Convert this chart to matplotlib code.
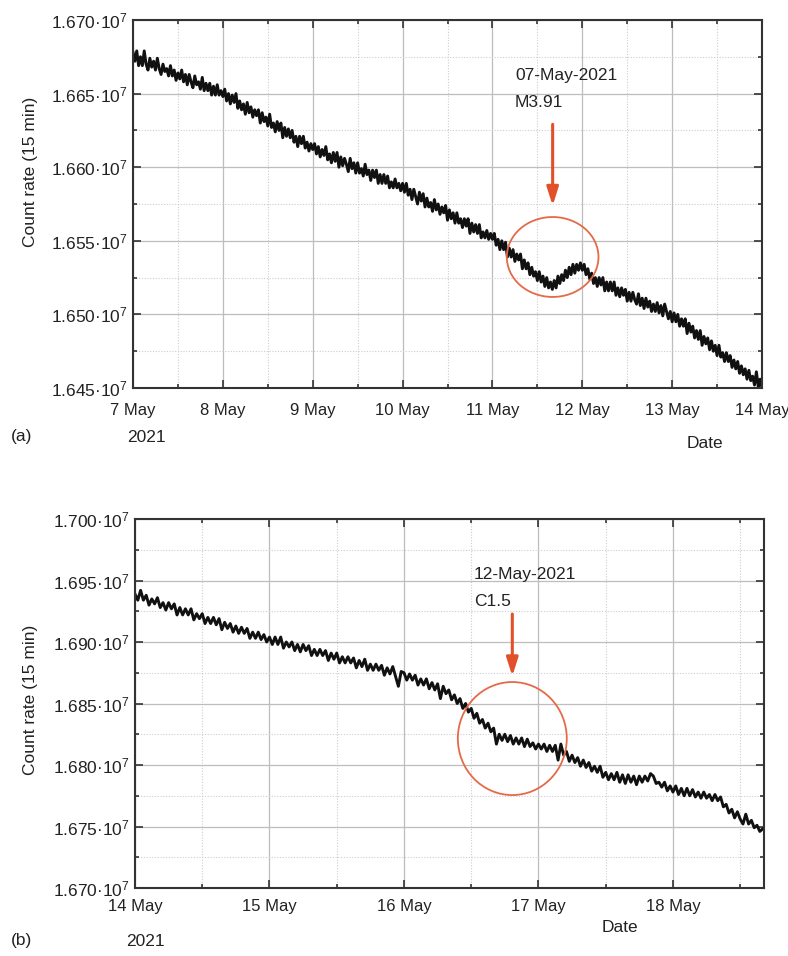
import numpy as np
import pandas as pd
import matplotlib
matplotlib.use("Agg")
import matplotlib.pyplot as plt
import matplotlib.dates as mdates
from matplotlib.patches import Ellipse
from matplotlib.ticker import MultipleLocator, FuncFormatter

plt.rcParams['font.family'] = ['Liberation Sans', 'DejaVu Sans']
plt.rcParams['mathtext.fontset'] = 'custom'
plt.rcParams['mathtext.rm'] = 'Liberation Sans'
plt.rcParams['mathtext.it'] = 'Liberation Sans:italic'

# 30-min count rate (thousands), panel (a): 7 May 00:00 -> 14 May 00:00
rate_a = [
    # 7 May
    16678, 16672, 16679, 16669, 16675, 16669, 16679, 16670, 16666, 16674, 16668, 16672,
    16666, 16674, 16667, 16663, 16670, 16665, 16667, 16662, 16669, 16662, 16666, 16659,
    16664, 16660, 16666, 16658, 16663, 16656, 16663, 16658, 16654, 16662, 16656, 16658,
    16653, 16661, 16652, 16657, 16652, 16657, 16649, 16655, 16649, 16656, 16649, 16652,
    # 8 May
    16648, 16653, 16645, 16650, 16643, 16649, 16644, 16650, 16640, 16645, 16639, 16643,
    16636, 16644, 16637, 16641, 16634, 16639, 16635, 16639, 16630, 16637, 16631, 16634,
    16628, 16636, 16627, 16630, 16624, 16631, 16625, 16630, 16620, 16627, 16621, 16626,
    16620, 16625, 16617, 16621, 16614, 16621, 16616, 16621, 16613, 16617, 16611, 16616,
    # 9 May
    16612, 16616, 16609, 16614, 16607, 16612, 16608, 16614, 16605, 16609, 16603, 16610,
    16604, 16610, 16600, 16607, 16601, 16606, 16602, 16597, 16606, 16599, 16603, 16596,
    16603, 16596, 16599, 16594, 16602, 16595, 16598, 16591, 16598, 16593, 16598, 16589,
    16595, 16589, 16595, 16589, 16594, 16586, 16590, 16586, 16592, 16586, 16589, 16584,
    # 10 May
    16589, 16583, 16589, 16581, 16585, 16578, 16585, 16580, 16575, 16583, 16577, 16582,
    16573, 16579, 16573, 16576, 16570, 16578, 16571, 16575, 16568, 16573, 16569, 16574,
    16564, 16571, 16565, 16569, 16562, 16569, 16562, 16565, 16559, 16565, 16560, 16565,
    16555, 16562, 16556, 16561, 16555, 16561, 16552, 16556, 16552, 16557, 16551, 16555,
    # 11 May
    16551, 16555, 16547, 16551, 16544, 16550, 16544, 16549, 16539, 16545, 16539, 16544,
    16536, 16541, 16537, 16541, 16531, 16537, 16531, 16535, 16527, 16532, 16526, 16529,
    16523, 16529, 16522, 16526, 16519, 16525, 16518, 16522, 16517, 16523, 16518, 16526,
    16521, 16527, 16523, 16530, 16525, 16532, 16527, 16534, 16528, 16534, 16530, 16535,
    # 12 May
    16530, 16534, 16527, 16531, 16524, 16528, 16521, 16525, 16519, 16525, 16520, 16525,
    16516, 16522, 16516, 16522, 16516, 16522, 16513, 16518, 16512, 16518, 16513, 16517,
    16509, 16515, 16509, 16515, 16510, 16507, 16514, 16506, 16511, 16504, 16511, 16505,
    16509, 16502, 16507, 16502, 16508, 16501, 16506, 16499, 16507, 16502, 16497, 16502,
    # 13 May
    16495, 16501, 16495, 16500, 16492, 16497, 16492, 16497, 16487, 16494, 16488, 16492,
    16484, 16489, 16483, 16489, 16479, 16485, 16480, 16484, 16476, 16482, 16475, 16479,
    16472, 16479, 16471, 16474, 16468, 16474, 16468, 16472, 16464, 16469, 16463, 16468,
    16460, 16465, 16459, 16463, 16456, 16462, 16455, 16458, 16452, 16461, 16451, 16456,
    # 14 May 00:00
    16450,
]

# 30-min count rate (thousands), panel (b): 14 May 00:00 -> 18 May 16:00
rate_b = [
    # 14 May
    16939, 16934, 16942, 16934, 16938, 16930, 16935, 16931, 16936, 16928, 16932, 16926,
    16932, 16927, 16931, 16922, 16928, 16922, 16927, 16922, 16927, 16918, 16923, 16919,
    16923, 16915, 16920, 16915, 16920, 16914, 16919, 16910, 16916, 16911, 16915, 16908,
    16913, 16907, 16912, 16907, 16911, 16903, 16908, 16903, 16908, 16902, 16906, 16900,
    # 15 May
    16904, 16898, 16904, 16898, 16904, 16895, 16900, 16896, 16900, 16893, 16898, 16892,
    16898, 16893, 16897, 16889, 16894, 16889, 16894, 16889, 16893, 16885, 16891, 16886,
    16891, 16883, 16888, 16883, 16888, 16883, 16887, 16879, 16885, 16880, 16886, 16877,
    16882, 16877, 16882, 16877, 16881, 16873, 16879, 16874, 16880, 16872, 16864, 16876,
    # 16 May
    16875, 16869, 16874, 16869, 16873, 16865, 16870, 16865, 16870, 16862, 16867, 16861,
    16866, 16854, 16864, 16858, 16861, 16853, 16857, 16850, 16854, 16846, 16850, 16843,
    16846, 16838, 16842, 16834, 16837, 16830, 16834, 16827, 16830, 16817, 16825, 16820,
    16825, 16819, 16824, 16817, 16822, 16817, 16822, 16815, 16821, 16815, 16818, 16813,
    # 17 May
    16817, 16813, 16817, 16811, 16816, 16811, 16816, 16804, 16817, 16808, 16811, 16803,
    16808, 16802, 16806, 16799, 16804, 16798, 16802, 16795, 16799, 16794, 16799, 16790,
    16794, 16788, 16793, 16788, 16794, 16786, 16792, 16785, 16792, 16786, 16791, 16784,
    16791, 16786, 16791, 16787, 16793, 16791, 16785, 16786, 16782, 16786, 16779, 16783,
    # 18 May 00:00 -> 16:00
    16778, 16783, 16776, 16781, 16775, 16781, 16775, 16780, 16774, 16778, 16773, 16778,
    16773, 16776, 16771, 16776, 16771, 16774, 16766, 16768, 16761, 16764, 16757, 16762,
    16756, 16752, 16760, 16752, 16755, 16749, 16751, 16746, 16748,
]

yticks_a = [1.645e7, 1.650e7, 1.655e7, 1.660e7, 1.665e7, 1.670e7]
yticks_b = [1.670e7, 1.675e7, 1.680e7, 1.685e7, 1.690e7, 1.695e7, 1.700e7]

red = '#e2502a'
circ = '#e46a48'
FS = 12.5

t_a = pd.date_range('2021-05-07', periods=len(rate_a), freq='30min')
t_b = pd.date_range('2021-05-14', periods=len(rate_b), freq='30min')

W, H = 788, 956
fig = plt.figure(figsize=(W / 100, H / 100), dpi=100)
ax1 = fig.add_axes([133 / W, 1 - 388 / H, (762 - 133) / W, (388 - 20) / H])
ax2 = fig.add_axes([135 / W, 1 - 888 / H, (764 - 135) / W, (888 - 519) / H])


def ylab(v, pos):
    return '%.3f·10$^{7}$' % (v / 1e7)


def style(ax, yt, pad_x):
    ax.set_yticks(yt)
    ax.yaxis.set_minor_locator(MultipleLocator(0.0025e7))
    ax.yaxis.set_major_formatter(FuncFormatter(ylab))
    ax.xaxis.set_major_locator(mdates.DayLocator())
    ax.xaxis.set_minor_locator(mdates.HourLocator(byhour=[12]))
    ax.xaxis.set_major_formatter(FuncFormatter(
        lambda v, p: '%d May' % mdates.num2date(v).day))
    ax.grid(which='major', color='#bdbdbd', lw=0.9)
    ax.grid(which='minor', color='#cccccc', lw=0.8, ls=(0, (1, 1.5)))
    ax.tick_params(which='both', direction='in', top=True, right=True,
                   color='#333333', width=1.2)
    ax.tick_params(which='major', length=6, labelsize=FS, labelcolor='#222222')
    ax.tick_params(which='minor', length=3)
    ax.tick_params(axis='x', pad=pad_x, labelsize=12)
    ax.tick_params(axis='y', pad=4)
    for s in ax.spines.values():
        s.set_color('#333333')
        s.set_linewidth(1.5)
    ax.set_axisbelow(True)


# panel (a)
ax1.plot(t_a, np.array(rate_a) * 1e3, color='#111111', lw=2.1)
style(ax1, yticks_a, 11)
ax1.set_xlim(pd.Timestamp('2021-05-07'), pd.Timestamp('2021-05-14'))
ax1.set_ylim(1.645e7, 1.670e7)
c_a = mdates.date2num(pd.Timestamp('2021-05-11 16:05'))
ax1.add_patch(Ellipse((c_a, 1.6539e7), 1.02, 0.00543e7, fill=False,
                      ec=circ, lw=1.3, zorder=5))
ax1.annotate('', xy=(c_a, 1.6572e7), xytext=(c_a, 1.6631e7),
             arrowprops=dict(arrowstyle='-|>,head_width=0.35,head_length=1.1',
                             color=red, lw=2.2))
x_ta = mdates.date2num(pd.Timestamp('2021-05-11 06:00'))
ax1.text(x_ta, 1.6662e7, '07-May-2021', fontsize=FS, va='center', color='#222222')
ax1.text(x_ta, 1.6644e7, 'M3.91', fontsize=FS, va='center', color='#222222')

# panel (b)
ax2.plot(t_b, np.array(rate_b) * 1e3, color='#111111', lw=2.1)
style(ax2, yticks_b, 8)
ax2.set_xlim(pd.Timestamp('2021-05-14'), pd.Timestamp('2021-05-18 16:15'))
ax2.set_ylim(1.670e7, 1.700e7)
c_b = mdates.date2num(pd.Timestamp('2021-05-16 19:20'))
ax2.add_patch(Ellipse((c_b, 1.68215e7), 0.81, 0.00919e7, fill=False,
                      ec=circ, lw=1.3, zorder=5))
ax2.annotate('', xy=(c_b, 1.6870e7), xytext=(c_b, 1.6925e7),
             arrowprops=dict(arrowstyle='-|>,head_width=0.35,head_length=1.1',
                             color=red, lw=2.2))
x_tb = mdates.date2num(pd.Timestamp('2021-05-16 12:30'))
ax2.text(x_tb, 1.6955e7, '12-May-2021', fontsize=FS, va='center', color='#222222')
ax2.text(x_tb, 1.6933e7, 'C1.5', fontsize=FS, va='center', color='#222222')


# outer labels
def ftext(x, y, s, **kw):
    fig.text(x / W, 1 - y / H, s, fontsize=FS, color='#222222',
             ha='center', va='center', **kw)


ftext(30, 172, 'Count rate (15 min)', rotation=90)
ftext(30, 700, 'Count rate (15 min)', rotation=90)
ftext(22, 437, '(a)')
ftext(146, 437, '2021')
ftext(705, 443, 'Date')
ftext(22, 941, '(b)')
ftext(145, 941, '2021')
ftext(620, 927, 'Date')

fig.savefig('out.png', dpi=100)
